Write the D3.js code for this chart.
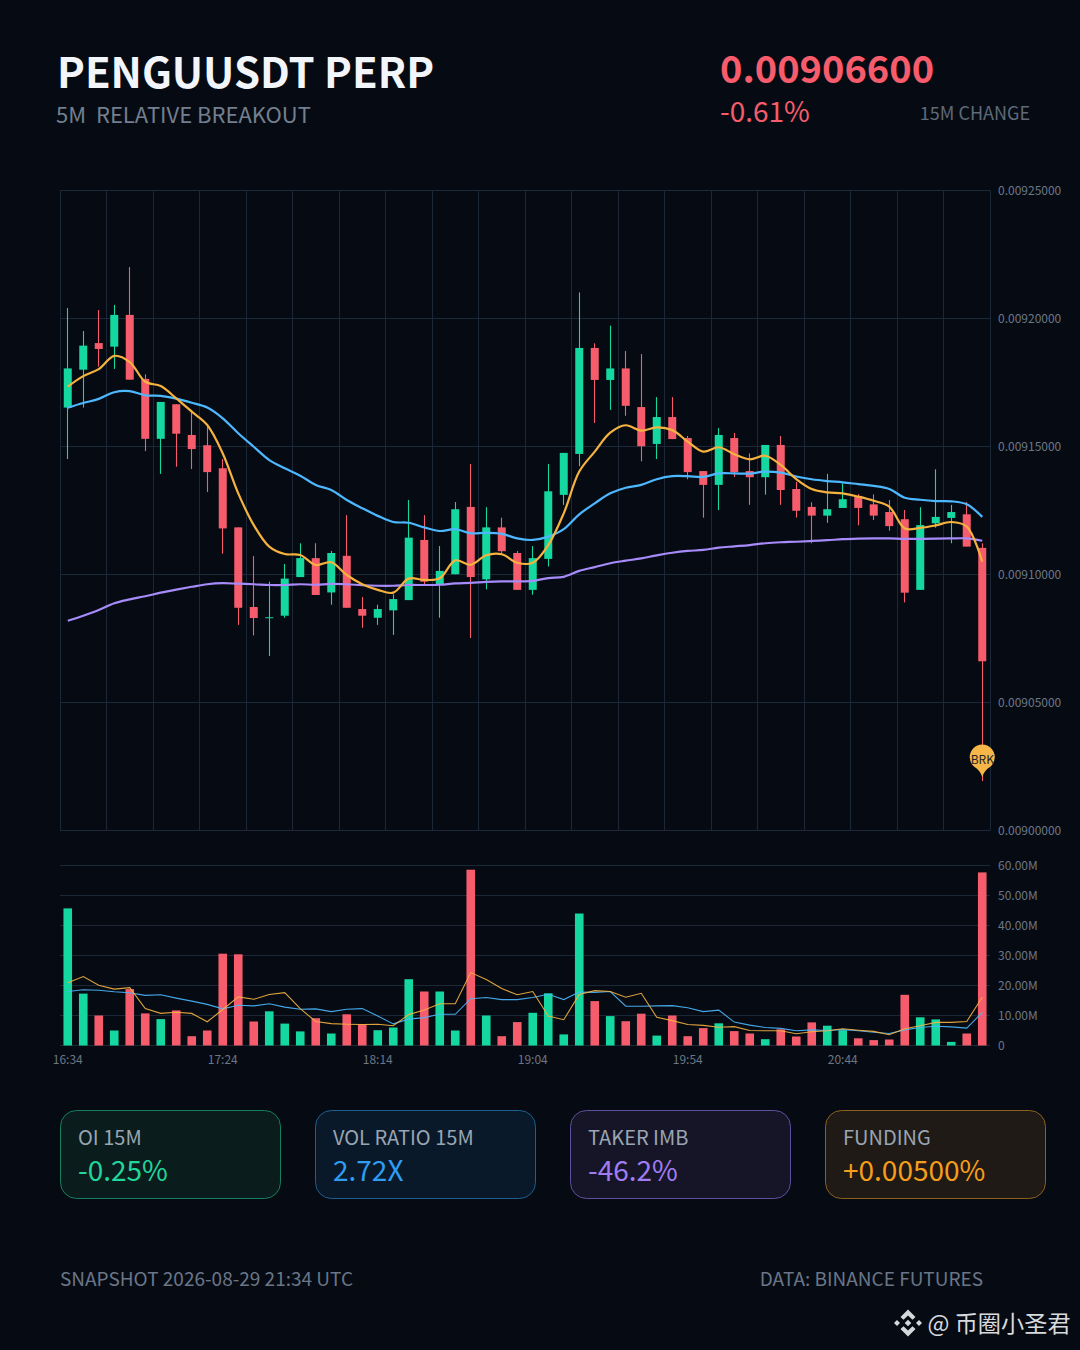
<!DOCTYPE html>
<html><head><meta charset="utf-8">
<script src="https://cdnjs.cloudflare.com/ajax/libs/d3/7.8.5/d3.min.js"></script>
<style>
html,body{margin:0;padding:0;background:#060b13;}
svg{display:block;}
text{font-family:"Noto Sans CJK SC","Noto Sans",sans-serif;}
</style></head><body>
<svg id="c" width="1080" height="1350"></svg>
<script>
// Prices in units of 1e-8
const opens=[916520,918000,919040,918900,920140,917640,915300,916650,915450,915050,914150,911840,908730,908300,908390,909900,910640,909300,910730,908650,908310,908600,909000,911350,909620,910010,912640,909810,911840,910840,909400,910610,913110,914710,918850,917600,918050,916540,915100,916150,915330,914040,913500,915330,914040,913800,915060,913340,912640,912300,912600,913070,912740,912440,912160,909400,912000,912210,912350,911040];
const highs=[920410,919510,920330,920530,922010,917820,916740,916650,916430,915770,914510,911840,910720,909720,910410,911220,911220,910920,912320,909120,908820,909230,912910,912320,911110,912830,914320,912630,912220,910920,911110,914320,914750,921020,919030,919720,918730,918610,916930,916930,915410,914040,915720,915530,914730,915060,915410,913620,912820,913930,913560,913140,913130,912910,912520,912630,914110,912720,912830,911220];
const lows=[914510,916520,918120,918030,917610,914820,913930,914210,914120,913220,910810,908030,907620,906820,908310,909900,909200,908820,908700,907920,908030,907640,909000,909630,908310,910010,907520,909420,910760,909400,909210,910310,912720,914230,915920,916430,916200,914420,914510,915290,913720,912220,912520,913810,912720,913120,912720,912220,911220,912020,912600,911920,912130,911710,908910,909400,911830,911220,911090,901930];
const closes=[918050,918940,918810,920140,917610,915300,916740,915500,914900,914000,911800,908700,908300,908330,909840,910640,909200,910840,908700,908390,908650,909040,911440,909720,910140,912550,909900,911840,910910,909400,910640,913250,914750,918850,917600,918050,916590,915010,916150,915290,914000,913500,915450,914000,913800,915060,913300,912490,912300,912550,912940,912600,912300,911890,909290,911930,912250,912440,911090,906610];
const maFast=[917340,917750,918020,918540,918300,917530,917360,916880,916360,915840,914730,913170,911930,911090,910800,910760,910370,910480,909980,909620,909400,909290,909840,909790,909850,910550,910380,910750,910790,910460,910460,911150,912390,914020,914800,915540,915830,915620,915750,915640,915190,914800,914970,914700,914500,914640,914280,913730,913340,913210,913170,913040,912880,912650,911800,911820,911920,912050,911870,910500];
const maMid=[916520,916700,916860,917120,917160,917000,916980,916870,916710,916520,916100,915520,914990,914470,914150,913860,913500,913300,912910,912590,912290,912050,912020,911840,911700,911770,911610,911630,911590,911410,911350,911480,911770,912350,912780,913170,913390,913500,913720,913840,913840,913810,913950,913950,913940,914020,913980,913830,913720,913650,913600,913530,913460,913340,913000,912920,912870,912860,912740,912250];
const maSlow=[908195,908390,908610,908880,909030,909150,909290,909410,909520,909620,909660,909640,909620,909590,909590,909620,909600,909630,909620,909580,909560,909560,909590,909590,909600,909650,909670,909710,909730,909730,909750,909860,909910,910140,910290,910440,910540,910630,910750,910850,910920,910960,911050,911100,911150,911220,911260,911280,911310,911340,911380,911400,911410,911410,911390,911390,911400,911410,911410,911320];
// Volume in millions
const volumes=[45.7,17.3,10,5,18.8,10.7,8.8,11.7,3.1,5,30.6,30.4,8,11.4,7.3,4.7,9.1,4,10.4,7,5.1,6,22.1,18,18,5,58.6,10,3.1,7.8,10.9,17.4,3.7,44,14.8,9.8,8.1,10.6,3.3,10,3.1,5.8,7.4,4.8,4,2.1,5.4,3,7.7,6.6,5.1,2.4,1.8,2,16.9,9.4,8.7,1.2,4,57.7];
const volFast=[20.9,23,20.1,18.8,19.3,12.3,10.7,11.1,10.7,7.9,12,16.2,15.4,17,17.6,12.3,8,7.3,7.1,7,7.1,6.6,10.3,11.8,13.9,13.9,24.3,22,19,16.9,18,9.8,8.6,17,18.3,18,16.1,17.4,9.4,8.3,7,6.7,6.1,6.3,5,4.9,4.9,3.9,4.6,4.9,5.6,5.1,4.7,3.6,5.6,6.6,7.7,7.7,8,16.1];
const volSlow=[18,18.6,18.4,17.9,17.6,16.7,16.9,15.8,14.8,13.7,12.2,13.4,13.2,13.9,12.8,12.1,12.2,11.3,12.1,12.3,9.8,7.2,8.8,9.3,10.4,10.4,15.6,16,15.3,15.3,16,17.1,15.3,17.8,17.7,18,13.1,13.1,13.2,13.3,12.6,11.3,11.8,7.8,6.8,6,5.7,4.9,5.2,5,5.3,4.9,4.4,4,5.2,6,6.4,6.2,5.8,11];
const timeStart=[16,34];
const labelEvery=10;
const cards=[
 {label:"OI 15M",value:"-0.25%",color:"#20d69a",border:"#14805f",fill:"#0b1c1c"},
 {label:"VOL RATIO 15M",value:"2.72X",color:"#2e9df4",border:"#1d5f8f",fill:"#0a1929"},
 {label:"TAKER IMB",value:"-46.2%",color:"#a07cf2",border:"#5f4f9f",fill:"#161527"},
 {label:"FUNDING",value:"+0.00500%",color:"#f59e1b",border:"#8d6020",fill:"#1f1a15"}
];
const UP="#15d8a0",DOWN="#f65c6b",GRID="#1c2838",AXT="#6c7786";

const svg=d3.select("#c");
const idx=d3.range(opens.length);
const x=d3.scaleBand().domain(idx).range([60,990]);
const cx=i=>x(i)+x.bandwidth()/2;
const yP=d3.scaleLinear().domain([900000,925000]).range([830.5,190.5]);
const yV=d3.scaleLinear().domain([0,60]).range([1045.5,865.5]);

// header
svg.append("text").attr("x",57).attr("y",88).attr("font-size",41.8).attr("font-weight",700).attr("fill","#f2f5f9").text("PENGUUSDT PERP");
svg.append("text").attr("x",56).attr("y",123).attr("font-size",22).attr("fill","#737f8e").attr("xml:space","preserve").text("5M  RELATIVE BREAKOUT");
svg.append("text").attr("x",720).attr("y",83).attr("font-size",38).attr("font-weight",700).attr("fill",DOWN).text("0.00906600");
svg.append("text").attr("x",720).attr("y",122).attr("font-size",28).attr("fill",DOWN).text("-0.61%");
svg.append("text").attr("x",1030).attr("y",120).attr("text-anchor","end").attr("font-size",18).attr("fill","#5f6a79").text("15M CHANGE");

// main grid
const g=svg.append("g");
const pTicks=yP.ticks(5);
g.selectAll(".h").data(pTicks).join("line").attr("x1",60).attr("x2",990).attr("y1",d=>yP(d)).attr("y2",d=>yP(d)).attr("stroke",GRID);
g.selectAll(".v").data(d3.range(0,61,3)).join("line")
 .attr("x1",d=>Math.floor(60+d*x.step())+0.5).attr("x2",d=>Math.floor(60+d*x.step())+0.5).attr("y1",190.5).attr("y2",830.5).attr("stroke",GRID);

const axP=svg.append("g").attr("transform","translate(998,0)").call(d3.axisRight(yP).tickValues(pTicks).tickSize(0).tickPadding(0).tickFormat(d=>(d/1e8).toFixed(8)));
axP.select(".domain").remove();
axP.selectAll("text").attr("fill",AXT).attr("font-size",12);

// candles
const cg=svg.append("g");
const wx=i=>Math.floor(cx(i))+0.5;
cg.selectAll(".w").data(idx).join("line").attr("x1",wx).attr("x2",wx).attr("y1",i=>yP(highs[i])).attr("y2",i=>yP(lows[i]))
  .attr("stroke",i=>closes[i]>=opens[i]?UP:DOWN).attr("stroke-width",1.1);
const bw=8;
cg.selectAll(".b").data(idx).join("rect").attr("x",i=>cx(i)-bw/2).attr("width",bw)
  .attr("y",i=>yP(Math.max(opens[i],closes[i])))
  .attr("height",i=>Math.max(1,Math.abs(yP(opens[i])-yP(closes[i]))))
  .attr("fill",i=>closes[i]>=opens[i]?UP:DOWN);

// MA lines
const lineP=d3.line().x((d,i)=>cx(i)).y(d=>yP(d)).curve(d3.curveCatmullRom.alpha(0.5));
[[maSlow,"#a78bfa"],[maMid,"#4db8ff"],[maFast,"#f6b23f"]].forEach(([d,c])=>{
  svg.append("path").attr("d",lineP(d)).attr("fill","none").attr("stroke",c).attr("stroke-width",2.2);
});

// pin: sits just above the candle's low, so the wick's end shows below it
const last=idx.length-1;
const pinG=svg.append("g").attr("transform",`translate(${cx(last)},${yP(lows[last])-4})`);
pinG.append("path").attr("d","M0,0 C-1.2,-4.5 -4,-7.8 -8,-10.4 A12.5,12.5 0 1 1 8,-10.4 C4,-7.8 1.2,-4.5 0,0 Z").attr("fill","#f6b748");
pinG.append("text").attr("x",0).attr("y",-12.7).attr("text-anchor","middle").attr("font-size",12).attr("fill","#1f2328").text("BRK");

// volume
const vTicks=yV.ticks(6);
svg.append("g").selectAll("line").data(vTicks).join("line").attr("x1",60).attr("x2",990).attr("y1",d=>yV(d)).attr("y2",d=>yV(d)).attr("stroke",GRID);
const axV=svg.append("g").attr("transform","translate(998,0)").call(d3.axisRight(yV).tickValues(vTicks).tickSize(0).tickPadding(0).tickFormat(d=>d?d.toFixed(2)+"M":"0"));
axV.select(".domain").remove();
axV.selectAll("text").attr("fill",AXT).attr("font-size",12);
svg.append("g").selectAll("rect").data(idx).join("rect").attr("x",i=>cx(i)-4.3).attr("width",8.6)
  .attr("y",i=>yV(volumes[i])).attr("height",i=>yV(0)-yV(volumes[i]))
  .attr("fill",i=>closes[i]>=opens[i]?UP:DOWN);
const lineV=d3.line().x((d,i)=>cx(i)).y(d=>yV(d));
[[volSlow,"#4db8ff"],[volFast,"#f6b23f"]].forEach(([d,c])=>{
  svg.append("path").attr("d",lineV(d)).attr("fill","none").attr("stroke",c).attr("stroke-width",1.1).attr("opacity",.9);
});
const timeLabel=i=>{const m=timeStart[0]*60+timeStart[1]+i*5;return d3.format("02")(Math.floor(m/60))+":"+d3.format("02")(m%60);};
const axT=svg.append("g").attr("transform","translate(-0.5,1055)").call(d3.axisBottom(d3.scaleLinear().domain([0,last]).range([cx(0),cx(last)])).tickValues(idx.filter(i=>i%labelEvery===0&&i<last-5)).tickSize(0).tickPadding(0).tickFormat(timeLabel));
axT.select(".domain").remove();
axT.selectAll("text").attr("fill",AXT).attr("font-size",12);

// cards
const cardX=d3.scalePoint().domain(d3.range(cards.length)).range([60.5,825.5]);
const cg2=svg.append("g").selectAll("g").data(cards).join("g").attr("transform",(d,i)=>`translate(${cardX(i)},1110.5)`);
cg2.append("rect").attr("width",220).attr("height",88).attr("rx",16).attr("fill",d=>d.fill).attr("stroke",d=>d.border);
cg2.append("text").attr("x",17.5).attr("y",34.5).attr("font-size",20).attr("fill","#9aa5b3").text(d=>d.label);
cg2.append("text").attr("x",17.5).attr("y",70.5).attr("font-size",28).attr("fill",d=>d.color).text(d=>d.value);

// footer
svg.append("text").attr("x",60).attr("y",1286).attr("font-size",19).attr("fill","#6a7688").text("SNAPSHOT 2026-08-29 21:34 UTC");
svg.append("text").attr("x",983).attr("y",1286).attr("text-anchor","end").attr("font-size",19).attr("fill","#6a7688").text("DATA: BINANCE FUTURES");

// watermark
const wm=svg.append("g").attr("transform","translate(908,1323)").attr("fill","#d5d8db");
wm.append("path").attr("d","M0,-13.5 L7.5,-6 L4.5,-3.2 L0,-7.5 L-4.5,-3.2 L-7.5,-6 Z");
wm.append("path").attr("d","M0,13.5 L7.5,6 L4.5,3.2 L0,7.5 L-4.5,3.2 L-7.5,6 Z");
wm.append("path").attr("d","M0,-3.3 L3.3,0 L0,3.3 L-3.3,0 Z");
wm.append("path").attr("d","M-14,0 L-11,-3 L-8,0 L-11,3 Z");
wm.append("path").attr("d","M14,0 L11,-3 L8,0 L11,3 Z");
svg.append("text").attr("x",927.5).attr("y",1332).attr("font-size",23.2).attr("fill","#d8dadd").text("@ 币圈小圣君");
</script>
</body></html>
